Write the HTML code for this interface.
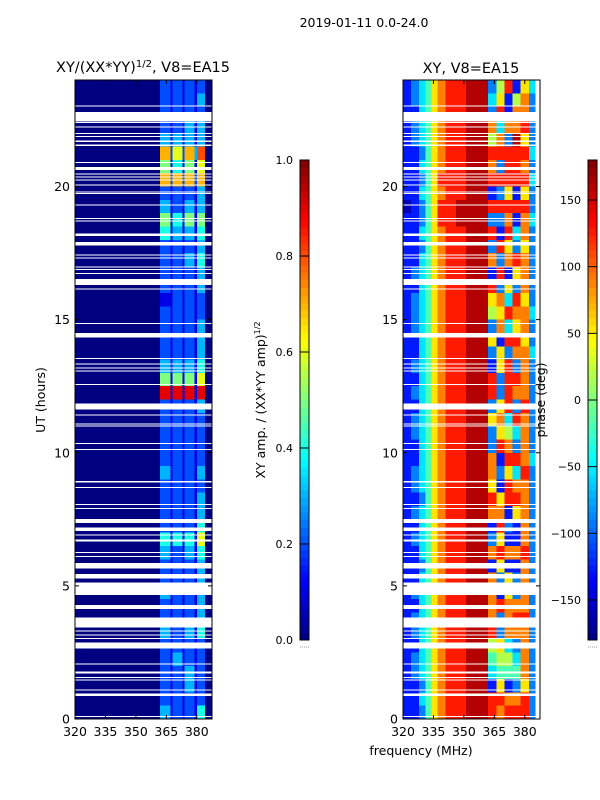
<!DOCTYPE html>
<html><head><meta charset="utf-8"><style>
body{margin:0;background:#fff;}
svg{display:block;font-family:"DejaVu Sans","Liberation Sans",sans-serif;}
</style></head><body>
<svg id="fig" width="600" height="800" viewBox="0 0 600 800" xmlns="http://www.w3.org/2000/svg">
<text x="364" y="27" font-size="12.5" text-anchor="middle">2019-01-11 0.0-24.0</text>
<text x="143" y="72" font-size="14.5" text-anchor="middle">XY/(XX*YY)<tspan dy="-5" font-size="10">1/2</tspan><tspan dy="5">, V8=EA15</tspan></text>
<text x="471" y="73" font-size="14.5" text-anchor="middle">XY, V8=EA15</text>
<g id="left"></g><g id="right"></g><g id="cb1"></g><g id="cb2"></g>
<text transform="translate(45,400) rotate(-90)" font-size="12.5" text-anchor="middle">UT (hours)</text>
<text x="421" y="755" font-size="12.5" text-anchor="middle">frequency (MHz)</text>
<text transform="translate(265,400) rotate(-90)" font-size="12.5" text-anchor="middle">XY amp. / (XX*YY amp)<tspan dy="-5" font-size="8">1/2</tspan></text>
<text transform="translate(545,400) rotate(-90)" font-size="12.5" text-anchor="middle">phase (deg)</text>
</svg>
<script>
const NS='http://www.w3.org/2000/svg';
// time gaps (hours) – flagged data shown white
const gapStart=[23.0,22.45,22.38,22.22,21.97,21.85,21.68,21.53,20.88,20.62,20.45,20.34,20.22,20.03,19.78,19.72,19.28,18.78,18.68,18.15,17.78,17.4,17.3,16.96,16.86,16.71,16.3,16.13,14.84,14.32,13.52,13.31,13.17,13.05,12.55,11.63,11.39,11.06,10.98,10.33,10.11,8.89,8.68,8.03,7.89,7.37,7.06,6.89,6.66,6.23,6.08,5.66,5.28,4.66,4.13,3.43,3.29,3.13,3.0,2.65,2.05,1.71,1.54,1.44,1.07,0.87,0.07];
const gapEnd=  [23.04,22.8,22.42,22.26,22.01,21.89,21.72,21.57,20.92,20.74,20.49,20.38,20.26,20.07,19.82,19.76,19.32,18.82,18.72,18.24,17.92,17.44,17.34,17.0,16.9,16.75,16.52,16.17,14.88,14.5,13.56,13.35,13.21,13.09,12.59,11.85,11.43,11.1,11.02,10.37,10.15,8.93,8.72,8.07,7.93,7.51,7.2,6.93,6.75,6.27,6.12,5.85,5.45,5.12,4.28,3.82,3.33,3.17,3.04,2.87,2.09,1.78,1.58,1.48,1.11,0.96,0.11];
// time rows: 48 half-hour rows, listed top (23.5-24h) to bottom (0-0.5h)
const rowTop=[24,23.5,23,22.5,22,21.5,21,20.5,20,19.5,19,18.5,18,17.5,17,16.5,16,15.5,15,14.5,14,13.5,13,12.5,12,11.5,11,10.5,10,9.5,9,8.5,8,7.5,7,6.5,6,5.5,5,4.5,4,3.5,3,2.5,2,1.5,1,0.5];
// amplitude channels (MHz edges)
const ampFreqEdges=[320,362,367,368,373,374,379,380,384,388];
// amplitude values, char d -> d/10
const ampRows=["021212120","021212130","021212120","021213130","031313130","072627380","051415160","072727270","021212130","031213130","051415150","041313140","021212130","021213140","021212130","021212130","011212120","021212120","021212130","021212130","021212130","031313140","051515160","091919190","021212130","021212120","021212120","021212120","021212120","031212130","021212120","021212130","021212130","021212140","041414160","031213140","021212130","021212130","031212130","021212130","021212130","031213140","021212120","021312120","021213120","021213120","021212120","031212140"];
// phase channels (MHz edges)
const phFreqEdges=[320,324,328,331,334,337,341,346,351,356,362,366,370,374,378,382,385];
// phase values, char d -> -162+36*d deg
const phRows=["1234678899258163","1234678899361572","1134678899281772","1234678899737782","1234678899572962","1124678899888883","1134678899728872","1124688899888883","1134678899126162","0124688999888882","1124688999227173","1134678899818372","1124678899286262","1134678899727872","1234678899181672","1134678899826272","1234678899673862","1234678899568773","1234678899273672","1134678899618862","1134678899262773","1234678899168272","1134678899828872","1234678899828772","1134678899268282","1234678899673872","1234678899265372","1134678899287272","1134678899718873","1234678899726382","1234678899618772","1124678899868872","1234678899771672","1134678899182172","1234678899261172","1134678899787782","1124678899161172","1134678899726272","1234678899716272","1134678899787772","1234678899727882","1234678899827772","1134678899563272","1234678899455372","1234678899344472","1124678899161262","1134678899887782","1124678899878882"];
// tick labels
const xTicks=[320,335,350,365,380];
const yTicks=[0,5,10,15,20];
const ampTicks=[0,0.2,0.4,0.6,0.8,1.0];
const phTicks=[-150,-100,-50,0,50,100,150];

function jet(v){v=Math.max(0,Math.min(1,v));
 const r=Math.max(0,Math.min(1,Math.min(4*v-1.5,-4*v+4.5)));
 const g=Math.max(0,Math.min(1,Math.min(4*v-0.5,-4*v+3.5)));
 const b=Math.max(0,Math.min(1,Math.min(4*v+0.5,-4*v+2.5)));
 return `rgb(${Math.round(r*255)},${Math.round(g*255)},${Math.round(b*255)})`;}
function mk(tag,attrs,parent){const e=document.createElementNS(NS,tag);for(const k in attrs)e.setAttribute(k,attrs[k]);parent.appendChild(e);return e;}

const Y0=719,Y1=80;const yS=h=>Y0-(Y0-Y1)*h/24;
function panel(gid,x0,edges,rows,valFn,name){
 const g=document.getElementById(gid);
 const xS=f=>x0+(f-320)*(137/67.5);
 const X1=x0+137;
 const clip=mk('clipPath',{id:'c'+gid},g);mk('rect',{x:x0,y:Y1,width:137,height:Y0-Y1},clip);
 const hm=mk('g',{'clip-path':`url(#c${gid})`,'shape-rendering':'crispEdges'},g);
 
 
 rows.forEach((s,i)=>{const t=rowTop[i];
  for(let j=0;j<edges.length-1;j++){
   const c=mk('rect',{x:xS(edges[j]),y:yS(t),width:xS(edges[j+1])-xS(edges[j])+0.5,height:yS(t-0.5)-yS(t)+0.5,fill:jet(valFn(+s[j]))},hm);
   
   
  }});
 gapStart.forEach((a,i)=>{const r=mk('rect',{x:x0,y:yS(gapEnd[i]),width:137,height:Math.max(1,yS(a)-yS(gapEnd[i])),fill:'#fff'},hm);
  
  });
 const fr=mk('rect',{x:x0,y:Y1,width:137,height:Y0-Y1,fill:'none',stroke:'#000','stroke-width':1},g);
 
 
 xTicks.forEach(f=>{const x=xS(f);
  mk('line',{x1:x,x2:x,y1:Y0,y2:Y0-4,stroke:'#000'},g);mk('line',{x1:x,x2:x,y1:Y1,y2:Y1+4,stroke:'#000'},g);
  const t=mk('text',{x:x,y:Y0+17,'font-size':12.5,'text-anchor':'middle'},g);t.textContent=f;
  
  });
 yTicks.forEach(h=>{const y=yS(h);
  mk('line',{x1:x0,x2:x0+4,y1:y,y2:y,stroke:'#000'},g);mk('line',{x1:X1,x2:X1-4,y1:y,y2:y,stroke:'#000'},g);
  const t=mk('text',{x:x0-5,y:y+4.5,'font-size':12.5,'text-anchor':'end'},g);t.textContent=h;
  
  });
}
panel('left',75,ampFreqEdges,ampRows,d=>d/10,'amplitude');
panel('right',403,phFreqEdges,phRows,d=>(-162+36*d+180)/360,'phase');

function cbar(gid,x,lo,hi,ticks,fmt,name){
 const g=document.getElementById(gid);const yt=160,yb=640,w=9;
 const N=64;
 for(let i=0;i<N;i++){mk('rect',{x:x,y:yb-(i+1)*(yb-yt)/N,width:w,height:(yb-yt)/N+0.6,fill:jet((i+0.5)/N),'shape-rendering':'crispEdges'},g);}
 const fr=mk('rect',{x:x,y:yt,width:w,height:yb-yt,fill:'none',stroke:'#000'},g);
 
 
 mk('line',{x1:x,x2:x+w,y1:yb+7,y2:yb+7,stroke:'#999','stroke-dasharray':'1,1'},g);
 ticks.forEach(v=>{const y=yb-(v-lo)/(hi-lo)*(yb-yt);
  mk('line',{x1:x,x2:x+w,y1:y,y2:y,stroke:'#000'},g);
  const t=mk('text',{x:x-7,y:y+4,'font-size':11,'text-anchor':'end'},g);t.textContent=fmt(v);
  
  });
}
cbar('cb1',300,0,1,ampTicks,v=>v.toFixed(1),'amplitude-colorbar');
cbar('cb2',588,-180,180,phTicks,v=>v<0?'\u2212'+(-v):String(v),'phase-colorbar');
</script>
</body></html>
